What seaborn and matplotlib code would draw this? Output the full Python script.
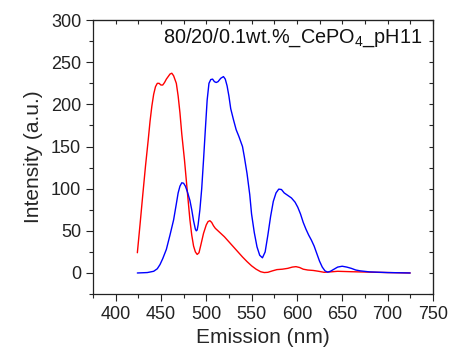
import matplotlib
matplotlib.use('Agg')
import numpy as np
import pandas as pd
import matplotlib.pyplot as plt
import seaborn as sns
from matplotlib.ticker import MultipleLocator

# emission spectra
red_nm = [424, 427, 430, 433, 436, 438, 440, 442, 444, 446, 448, 450, 452, 454, 456,
          458, 460, 462, 464, 467, 469, 471, 473, 476, 479, 482, 484, 486, 488, 490,
          492, 494, 497, 500, 502, 504, 506, 508, 510, 515, 520, 525, 530, 535, 540,
          545, 550, 555, 560, 564, 568, 573, 578, 584, 590, 595, 599, 603, 607, 612,
          618, 624, 630, 636, 645, 660, 680, 700, 725]
red_int = [24, 58, 93, 127, 158, 180, 198, 212, 221, 225, 225, 223, 223, 226, 230,
           233, 236, 237, 234, 225, 210, 190, 165, 134, 98, 63, 45, 32, 25, 22,
           24, 33, 47, 57, 61, 62, 60, 56, 53, 48, 43, 37, 31, 25, 19,
           13.5, 8.5, 4.5, 1.5, 0.5, 0.8, 2.5, 4, 4.5, 5.5, 7, 7.5, 6.5, 4.5, 3.5,
           3, 2, 0.8, 1.2, 2, 1.5, 1, 0.5, 0]

blue_nm = [424, 435, 442, 446, 449, 452, 456, 460, 464, 467, 469, 471, 473, 475, 477,
           479, 482, 484, 486, 488, 489, 490, 491, 493, 495, 497, 499, 501, 503, 505,
           507, 509, 511, 513, 516, 519, 521, 523, 525, 527, 530, 533, 536, 540, 542,
           545, 548, 550, 553, 556, 559, 562, 565, 568, 571, 574, 577, 580, 583, 586,
           590, 594, 598, 601, 604, 607, 610, 613, 616, 619, 622, 625, 628, 631, 634,
           637, 641, 645, 650, 655, 660, 665, 670, 680, 700, 725]
blue_int = [0, 0.5, 2, 5, 10, 17, 28, 45, 63, 82, 95, 103, 107, 106.5, 103,
            97, 86, 75, 62, 52, 50, 51, 57, 75, 100, 134, 170, 205, 225, 229.5,
            230, 227, 226, 227, 231, 233, 230, 222, 210, 195, 182, 170, 162, 150, 138,
            118, 93, 70, 48, 31, 21, 18, 25, 45, 67, 85, 95, 99.5, 99, 95,
            92, 89, 84, 78, 70, 60, 52, 45, 39, 32, 23, 14, 7, 2.5, 1,
            2, 4.5, 7, 8, 7, 5.5, 3.5, 2.5, 1.3, 0.5, 0]

df = pd.concat([
    pd.DataFrame({'nm': red_nm, 'intensity': red_int, 'series': 'red'}),
    pd.DataFrame({'nm': blue_nm, 'intensity': blue_int, 'series': 'blue'}),
])

sns.set_style('ticks')
plt.rcParams['font.family'] = ['Liberation Sans', 'DejaVu Sans']
plt.rcParams['mathtext.fontset'] = 'custom'
plt.rcParams['mathtext.rm'] = 'Liberation Sans'
plt.rcParams['mathtext.it'] = 'Liberation Sans'

fig = plt.figure(figsize=(4.49, 3.53), dpi=100)
ax = fig.add_axes([0.207, 0.167, 0.757, 0.776])

sns.lineplot(data=df, x='nm', y='intensity', hue='series',
             palette={'red': '#ff0000', 'blue': '#0000ff'},
             linewidth=1.0, legend=False, sort=True, ax=ax)

ax.set_xlim(375, 750)
ax.set_ylim(-25, 300)
ax.xaxis.set_major_locator(MultipleLocator(50))
ax.xaxis.set_minor_locator(MultipleLocator(25))
ax.yaxis.set_major_locator(MultipleLocator(50))
ax.yaxis.set_minor_locator(MultipleLocator(25))
ax.tick_params(which='major', direction='out', length=5, width=0.8, labelsize=13,
               colors='#222222')
ax.tick_params(which='minor', direction='out', length=3, width=0.8)

for sp in ax.spines.values():
    sp.set_visible(True)
    sp.set_linewidth(0.9)
    sp.set_color('#222222')

# mirrored inward ticks on top and right
top = ax.secondary_xaxis('top')
top.xaxis.set_major_locator(MultipleLocator(50))
top.xaxis.set_minor_locator(MultipleLocator(25))
top.tick_params(which='both', direction='in', length=3, width=0.8, labeltop=False)
right = ax.secondary_yaxis('right')
right.yaxis.set_major_locator(MultipleLocator(50))
right.yaxis.set_minor_locator(MultipleLocator(25))
right.tick_params(which='both', direction='in', length=3, width=0.8, labelright=False)

ax.set_xlabel('Emission (nm)', fontsize=15, labelpad=4)
ax.set_ylabel('Intensity (a.u.)', fontsize=15, labelpad=6)
ax.text(0.968, 0.975, '80/20/0.1wt.%_CePO$_4$_pH11', transform=ax.transAxes,
        ha='right', va='top', fontsize=14.3, color='#111111')

plt.savefig('out.png', dpi=100)
plt.close()
